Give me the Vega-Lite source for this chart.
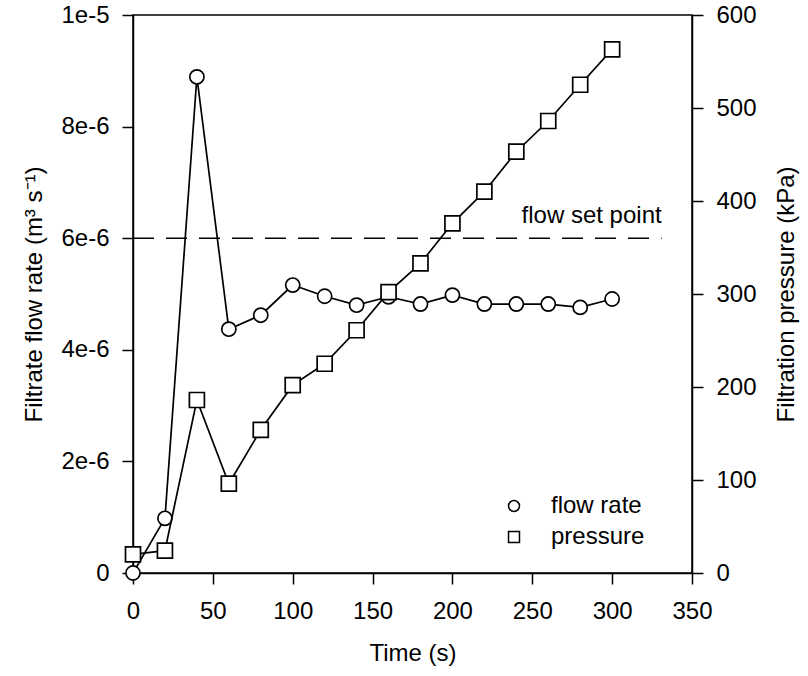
{
  "$schema": "https://vega.github.io/schema/vega-lite/v6.json",
  "width": 559,
  "height": 558,
  "autosize": {"type": "none"},
  "padding": {"left": 133, "top": 15, "right": 116, "bottom": 103},
  "background": "white",
  "config": {
    "font": "Liberation Sans",
    "view": {"stroke": "black", "strokeWidth": 1.5},
    "axis": {
      "grid": false,
      "labelFlush": false,
      "labelOverlap": false,
      "domainColor": "black",
      "domainWidth": 1.5,
      "tickColor": "black",
      "tickWidth": 1.5,
      "tickSize": 11,
      "labelFont": "Liberation Sans",
      "labelFontSize": 24,
      "labelColor": "black",
      "titleFont": "Liberation Sans",
      "titleFontSize": 24,
      "titleFontWeight": "normal",
      "titleColor": "black"
    }
  },
  "data": {
    "values": [
      {"time": 0, "flow": 0.0, "pressure": 20},
      {"time": 20, "flow": 0.98e-6, "pressure": 24},
      {"time": 40, "flow": 8.89e-6, "pressure": 186},
      {"time": 60, "flow": 4.37e-6, "pressure": 96},
      {"time": 80, "flow": 4.62e-6, "pressure": 154},
      {"time": 100, "flow": 5.16e-6, "pressure": 202},
      {"time": 120, "flow": 4.96e-6, "pressure": 225},
      {"time": 140, "flow": 4.80e-6, "pressure": 261},
      {"time": 160, "flow": 4.95e-6, "pressure": 302},
      {"time": 180, "flow": 4.82e-6, "pressure": 333},
      {"time": 200, "flow": 4.98e-6, "pressure": 376},
      {"time": 220, "flow": 4.82e-6, "pressure": 410},
      {"time": 240, "flow": 4.82e-6, "pressure": 453},
      {"time": 260, "flow": 4.82e-6, "pressure": 486},
      {"time": 280, "flow": 4.76e-6, "pressure": 525},
      {"time": 300, "flow": 4.91e-6, "pressure": 563}
    ]
  },
  "layer": [
    {
      "layer": [
        {
          "data": {"values": [{"t0": 0, "t1": 331, "setpoint": 6e-6, "label": "flow set point"}]},
          "mark": {"type": "rule", "color": "black", "strokeWidth": 1.5, "strokeDash": [21, 12]},
          "encoding": {
            "x": {"field": "t0", "type": "quantitative"},
            "x2": {"field": "t1"},
            "y": {"field": "setpoint", "type": "quantitative"}
          }
        },
        {
          "data": {"values": [{"t1": 331, "setpoint": 6e-6, "label": "flow set point"}]},
          "mark": {"type": "text", "align": "right", "baseline": "alphabetic", "dy": -15, "fontSize": 24, "color": "black", "font": "Liberation Sans"},
          "encoding": {
            "x": {"field": "t1", "type": "quantitative"},
            "y": {"field": "setpoint", "type": "quantitative"},
            "text": {"field": "label"}
          }
        },
        {
          "mark": {"type": "line", "color": "black", "strokeWidth": 1.7},
          "encoding": {
            "x": {"field": "time", "type": "quantitative"},
            "y": {"field": "flow", "type": "quantitative"}
          }
        },
        {
          "mark": {"type": "point", "filled": true, "fill": "white", "stroke": "black", "strokeWidth": 1.7, "size": 200, "opacity": 1},
          "encoding": {
            "x": {
              "field": "time", "type": "quantitative",
              "scale": {"domain": [0, 350], "nice": false},
              "axis": {"values": [0, 50, 100, 150, 200, 250, 300, 350], "title": "Time (s)", "labelPadding": 15, "titlePadding": 18}
            },
            "y": {
              "field": "flow", "type": "quantitative",
              "scale": {"domain": [0, 1e-5], "nice": false},
              "axis": {
                "orient": "left",
                "values": [0, 2e-6, 4e-6, 6e-6, 8e-6, 1e-5],
                "labelExpr": "datum.value == 0 ? '0' : format(datum.value, '.0e')",
                "labelPadding": 13,
                "title": "Filtrate flow rate (m³ s⁻¹)",
                "titlePadding": 14
              }
            },
            "shape": {
              "datum": "flow rate",
              "scale": {"domain": ["flow rate", "pressure"], "range": ["circle", "square"]},
              "legend": {
                "title": null,
                "orient": "none",
                "legendX": 369,
                "legendY": 479,
                "labelFontSize": 24,
                "labelFont": "Liberation Sans",
                "labelColor": "black",
                "labelOffset": 25,
                "symbolSize": 120,
                "rowPadding": 7,
                "encode": {
                  "symbols": {
                    "update": {
                      "fill": {"value": "white"},
                      "fillOpacity": {"value": 1},
                      "stroke": {"value": "black"},
                      "strokeWidth": {"value": 1.5},
                      "opacity": {"value": 1}
                    }
                  }
                }
              }
            }
          }
        }
      ]
    },
    {
      "layer": [
        {
          "mark": {"type": "line", "color": "black", "strokeWidth": 1.7},
          "encoding": {
            "x": {"field": "time", "type": "quantitative"},
            "y": {"field": "pressure", "type": "quantitative"}
          }
        },
        {
          "mark": {"type": "square", "filled": true, "fill": "white", "stroke": "black", "strokeWidth": 1.7, "size": 225, "opacity": 1},
          "encoding": {
            "x": {"field": "time", "type": "quantitative"},
            "y": {
              "field": "pressure", "type": "quantitative",
              "scale": {"domain": [0, 600], "nice": false},
              "axis": {
                "orient": "right",
                "values": [0, 100, 200, 300, 400, 500, 600],
                "labelPadding": 13,
                "title": "Filtration pressure (kPa)",
                "titleAngle": 270,
                "titleBaseline": "top",
                "titlePadding": 18
              }
            },
            "shape": {"datum": "pressure"}
          }
        }
      ]
    }
  ],
  "resolve": {"scale": {"y": "independent"}}
}
